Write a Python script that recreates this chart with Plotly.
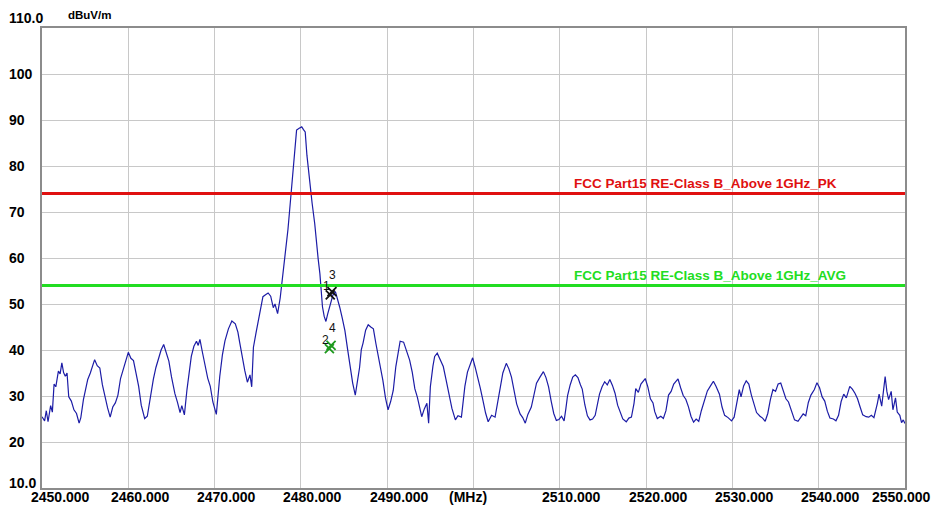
import plotly.graph_objects as go

# ---------------- data ----------------
freq = [
    2450.0, 2450.3, 2450.5, 2450.7, 2451.0, 2451.2, 2451.4, 2451.6, 2451.9, 2452.1,
    2452.3, 2452.5, 2452.7, 2452.9, 2453.1, 2453.4, 2453.7, 2454.0, 2454.3, 2454.5,
    2454.8, 2455.0, 2455.3, 2455.6, 2455.9, 2456.1, 2456.4, 2456.7, 2457.0, 2457.3,
    2457.6, 2457.9, 2458.2, 2458.5, 2458.8, 2459.1, 2459.4, 2459.7, 2460.0, 2460.3,
    2460.6, 2460.9, 2461.2, 2461.5, 2461.9, 2462.2, 2462.6, 2462.9, 2463.2, 2463.5,
    2463.8, 2464.1, 2464.4, 2464.7, 2465.0, 2465.4, 2465.7, 2466.0, 2466.2, 2466.5,
    2466.8, 2467.1, 2467.3, 2467.6, 2467.9, 2468.1, 2468.3, 2468.6, 2468.9, 2469.2,
    2469.5, 2469.8, 2470.2, 2470.4, 2470.6, 2470.9, 2471.2, 2471.6, 2472.0, 2472.4,
    2472.7, 2472.9, 2473.2, 2473.5, 2473.8, 2474.1, 2474.3, 2474.5, 2474.8, 2475.1,
    2475.4, 2475.6, 2475.9, 2476.2, 2476.5, 2476.8, 2477.0, 2477.3, 2477.6, 2477.8,
    2478.0, 2478.2, 2478.5, 2478.7, 2478.9, 2479.1, 2479.3, 2479.5, 2479.8, 2480.1,
    2480.3, 2480.5, 2480.7, 2480.9, 2481.1, 2481.3, 2481.6, 2481.8, 2482.0, 2482.2,
    2482.4, 2482.5, 2482.7, 2482.9, 2483.1, 2483.4, 2483.7, 2484.0, 2484.2, 2484.5,
    2484.8, 2485.1, 2485.4, 2485.7, 2486.0, 2486.3, 2486.5, 2486.8, 2487.0, 2487.2,
    2487.5, 2487.8, 2488.1, 2488.4, 2488.7, 2489.0, 2489.2, 2489.5, 2489.8, 2490.1,
    2490.4, 2490.7, 2491.0, 2491.3, 2491.5, 2491.9, 2492.2, 2492.6, 2492.9, 2493.2,
    2493.5, 2493.8, 2494.0, 2494.3, 2494.6, 2494.8, 2495.0, 2495.3, 2495.5, 2495.8,
    2496.1, 2496.5, 2496.8, 2497.1, 2497.5, 2497.9, 2498.2, 2498.6, 2498.8, 2499.0,
    2499.3, 2499.6, 2499.9, 2500.2, 2500.4, 2500.8, 2501.1, 2501.4, 2501.7, 2502.1,
    2502.5, 2502.8, 2503.1, 2503.4, 2503.8, 2504.1, 2504.4, 2504.7, 2505.0, 2505.4,
    2505.7, 2506.0, 2506.3, 2506.7, 2507.0, 2507.3, 2507.7, 2508.1, 2508.4, 2508.7,
    2509.0, 2509.3, 2509.6, 2509.9, 2510.2, 2510.5, 2510.7, 2510.9, 2511.2, 2511.5,
    2511.8, 2512.1, 2512.4, 2512.6, 2512.9, 2513.2, 2513.5, 2513.8, 2514.1, 2514.3,
    2514.6, 2514.9, 2515.2, 2515.5, 2515.8, 2516.1, 2516.4, 2516.7, 2517.0, 2517.3,
    2517.7, 2518.0, 2518.3, 2518.6, 2518.8, 2519.1, 2519.4, 2519.9, 2520.2, 2520.5,
    2520.8, 2521.0, 2521.3, 2521.7, 2522.0, 2522.3, 2522.6, 2522.9, 2523.2, 2523.7,
    2524.0, 2524.3, 2524.6, 2524.9, 2525.2, 2525.5, 2525.8, 2526.1, 2526.4, 2526.8,
    2527.1, 2527.5, 2527.8, 2528.1, 2528.5, 2528.8, 2529.1, 2529.5, 2529.9, 2530.2,
    2530.5, 2530.8, 2531.0, 2531.3, 2531.6, 2531.9, 2532.2, 2532.5, 2532.8, 2533.2,
    2533.5, 2533.8, 2534.1, 2534.4, 2534.7, 2535.0, 2535.3, 2535.6, 2535.9, 2536.2,
    2536.5, 2536.8, 2537.2, 2537.6, 2537.9, 2538.2, 2538.5, 2538.8, 2539.1, 2539.5,
    2539.8, 2540.1, 2540.4, 2540.7, 2541.0, 2541.3, 2541.7, 2542.0, 2542.3, 2542.6,
    2542.9, 2543.2, 2543.6, 2543.9, 2544.2, 2544.5, 2544.8, 2545.1, 2545.5, 2545.8,
    2546.1, 2546.4, 2546.8, 2547.0, 2547.3, 2547.5, 2547.7, 2547.9, 2548.1, 2548.4,
    2548.6, 2548.9, 2549.1, 2549.4, 2549.6, 2549.8, 2550.0,
]
level = [
    25.5, 24.6, 26.8, 24.4, 27.9, 26.5, 32.6, 32.0, 35.4, 34.8,
    37.2, 35.1, 34.3, 35.0, 29.8, 28.9, 27.0, 26.2, 24.1, 25.3,
    29.2, 30.8, 33.6, 35.0, 36.5, 37.9, 36.6, 36.1, 32.4, 29.6,
    27.4, 25.4, 27.6, 28.5, 30.2, 33.8, 35.7, 37.8, 39.5, 38.2,
    37.7, 34.9, 32.1, 28.0, 25.1, 25.6, 30.8, 33.6, 36.2, 38.4,
    40.0, 41.2, 39.6, 37.6, 34.2, 30.5, 28.6, 26.4, 27.9, 25.9,
    31.4, 35.8, 38.6, 40.8, 41.9, 41.0, 42.3, 39.4, 36.3, 33.9,
    32.1, 28.7, 26.0, 30.2, 34.3, 38.9, 42.0, 44.6, 46.3, 45.7,
    43.9, 41.7, 38.4, 35.5, 33.0, 34.6, 32.0, 40.6, 43.7, 46.6,
    49.6, 51.6, 52.0, 52.4, 51.7, 49.2, 50.0, 47.9, 51.3, 54.4,
    57.9, 60.4, 66.2, 70.5, 75.2, 79.0, 84.6, 87.8, 88.2, 88.5,
    87.9, 87.4, 82.3, 78.3, 74.6, 71.9, 67.5, 63.1, 59.8, 56.6,
    52.0, 49.4, 47.3, 46.2, 47.8, 49.6, 51.9, 52.7, 51.5, 49.3,
    46.9, 44.2, 40.3, 36.4, 32.8, 30.2, 32.6, 36.2, 40.1, 41.5,
    44.3, 45.5, 45.0, 44.6, 41.3, 38.5, 37.0, 33.4, 29.6, 27.0,
    28.8, 31.2, 36.4, 40.2, 41.9, 41.7, 40.1, 37.8, 35.2, 31.6,
    29.7, 27.1, 25.5, 27.2, 28.4, 24.1, 32.0, 36.5, 38.6, 39.3,
    38.1, 36.4, 33.7, 30.6, 27.3, 24.8, 25.7, 25.4, 28.6, 32.1,
    35.2, 37.0, 38.3, 36.2, 34.8, 31.6, 29.0, 26.3, 24.4, 25.8,
    25.4, 28.9, 32.1, 35.0, 37.1, 35.9, 34.1, 31.5, 28.3, 26.1,
    25.3, 24.1, 26.0, 27.6, 30.4, 32.8, 34.1, 35.3, 34.0, 32.0,
    28.9, 26.2, 24.7, 24.9, 25.6, 24.6, 27.2, 30.1, 32.4, 34.1,
    34.6, 34.0, 32.4, 31.5, 28.1, 25.7, 24.8, 25.0, 25.8, 27.5,
    30.4, 32.0, 33.1, 32.4, 33.6, 32.3, 30.6, 28.0, 26.6, 25.0,
    24.4, 25.2, 25.4, 28.4, 31.6, 30.8, 32.6, 33.8, 32.0, 29.4,
    28.5, 26.6, 25.1, 25.6, 25.1, 26.8, 30.2, 31.0, 32.6, 33.7,
    31.8, 30.1, 29.3, 27.7, 25.6, 24.3, 25.0, 24.5, 26.8, 29.4,
    31.1, 32.3, 33.2, 32.1, 30.4, 27.6, 25.8, 25.3, 24.6, 25.4,
    28.6, 31.4, 29.8, 32.2, 33.3, 32.6, 30.2, 28.0, 26.4, 25.6,
    25.2, 24.5, 26.2, 29.2, 31.4, 31.0, 32.6, 32.8, 31.2, 29.4,
    28.7, 26.8, 24.8, 24.5, 25.4, 26.1, 25.7, 28.6, 30.2, 31.4,
    32.9, 31.8, 29.8, 28.9, 26.7, 25.2, 25.0, 24.6, 25.8, 28.8,
    30.4, 29.6, 32.1, 31.5, 30.6, 29.4, 27.6, 25.9, 25.5, 25.4,
    25.8, 25.3, 28.4, 30.4, 27.8, 31.6, 34.2, 31.0, 29.2, 31.0,
    27.0, 29.6, 26.5, 25.8, 24.2, 24.8, 24.0,
]

limit_names = ["FCC Part15 RE-Class B_Above 1GHz_PK", "FCC Part15 RE-Class B_Above 1GHz_AVG"]
limit_values = [74.0, 54.0]
limit_colors = ["#e01010", "#22dd22"]

marker_ids = ["1", "2", "3", "4"]
marker_freq = [2483.4, 2483.3, 2483.6, 2483.5]
marker_level = [52.0, 40.3, 52.7, 41.0]
marker_colors = ["#111111", "#1e9a1e", "#111111", "#1e9a1e"]

x_ticks = [2450, 2460, 2470, 2480, 2490, 2500, 2510, 2520, 2530, 2540, 2550]
x_labels = ["2450.000", "2460.000", "2470.000", "2480.000", "2490.000", "(MHz)",
            "2510.000", "2520.000", "2530.000", "2540.000", "2550.000"]
y_ticks = [110, 100, 90, 80, 70, 60, 50, 40, 30, 20, 10]
y_labels = ["110.0", "100", "90", "80", "70", "60", "50", "40", "30", "20", "10.0"]
y_unit = "dBuV/m"

# ---------------- figure ----------------
FONT = "Liberation Sans, Arial, sans-serif"
fig = go.Figure()

fig.add_trace(go.Scatter(x=freq, y=level, mode="lines",
                         line=dict(color="#1c1ca6", width=1.2), hoverinfo="skip"))

for name, val, col in zip(limit_names, limit_values, limit_colors):
    fig.add_trace(go.Scatter(x=[2450, 2550], y=[val, val], mode="lines",
                             line=dict(color=col, width=3), hoverinfo="skip"))
    fig.add_annotation(x=2511.4, y=val, xref="x", yref="y", text="<b>%s</b>" % name,
                       showarrow=False, xanchor="left", yanchor="bottom", yshift=1,
                       font=dict(family=FONT, size=13.5, color=col))

for mid, mf, ml, mc in zip(marker_ids, marker_freq, marker_level, marker_colors):
    fig.add_trace(go.Scatter(x=[mf], y=[ml], mode="markers",
                             marker=dict(symbol="x-thin", size=9, line=dict(color=mc, width=1.8)),
                             hoverinfo="skip"))
    big = mid in ("3", "4")
    fig.add_annotation(x=mf, y=ml, xref="x", yref="y", text=mid, showarrow=False,
                       yshift=17 if big else 9, xshift=1 if big else -4,
                       font=dict(family=FONT, size=12, color="#111111"))

# x tick labels
for tv, tl in zip(x_ticks, x_labels):
    if tl == "(MHz)":
        sh = -6
    elif tv == 2450:
        sh = 18
    elif tv == 2550:
        sh = -4
    else:
        sh = 12
    fig.add_annotation(x=tv, y=0, xref="x", yref="paper", text="<b>%s</b>" % tl,
                       showarrow=False, xanchor="center", yanchor="middle",
                       xshift=sh, yshift=-9,
                       font=dict(family=FONT, size=14, color="#000000"))

# y tick labels (left aligned)
for tv, tl in zip(y_ticks, y_labels):
    ys = 10 if tv == 110 else (5 if tv == 10 else 0)
    fig.add_annotation(x=0, y=tv, xref="paper", yref="y", text="<b>%s</b>" % tl,
                       showarrow=False, xanchor="left", yanchor="middle",
                       xshift=-35, yshift=ys,
                       font=dict(family=FONT, size=14, color="#000000"))

fig.add_annotation(x=0, y=1, xref="paper", yref="paper", text="<b>%s</b>" % y_unit,
                   showarrow=False, xanchor="left", yanchor="middle",
                   xshift=24, yshift=13,
                   font=dict(family=FONT, size=11.5, color="#000000"))

fig.update_xaxes(range=[2450, 2550], tickvals=x_ticks, showticklabels=False,
                 showgrid=True, gridcolor="#c8c8c8", gridwidth=1.3,
                 showline=True, linecolor="#8c8c8c", linewidth=2, mirror=True,
                 zeroline=False, ticks="")
fig.update_yaxes(range=[10, 110], tickvals=y_ticks, showticklabels=False,
                 showgrid=True, gridcolor="#c8c8c8", gridwidth=1.3,
                 showline=True, linecolor="#8c8c8c", linewidth=2, mirror=True,
                 zeroline=False, ticks="")

fig.update_layout(width=936, height=509, showlegend=False,
                  margin=dict(l=42, r=31, t=28, b=21),
                  paper_bgcolor="#ffffff", plot_bgcolor="#ffffff",
                  font=dict(family=FONT))

fig.write_html("out.html", config={"displayModeBar": False},
               post_script="document.body.style.margin='0';document.body.style.overflow='hidden';")
